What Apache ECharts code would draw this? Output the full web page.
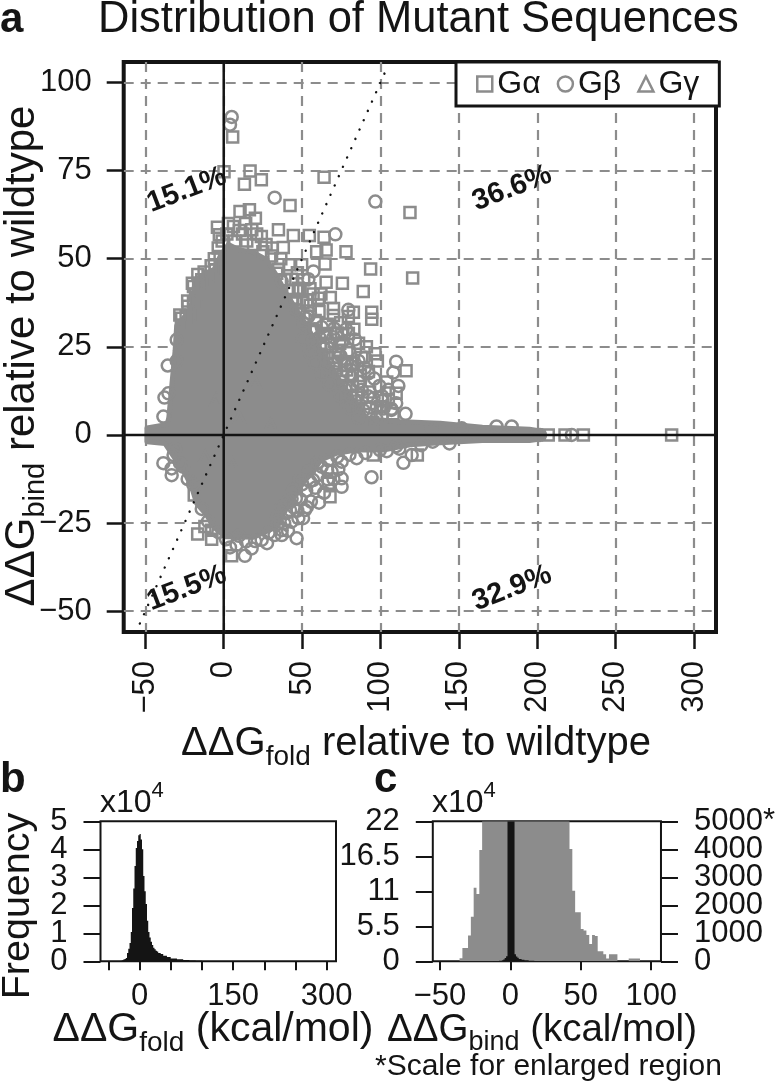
<!DOCTYPE html>
<html><head><meta charset="utf-8">
<style>html,body{margin:0;padding:0;background:#fff}#c{width:778px;height:1085px}</style>
<script src="https://cdn.jsdelivr.net/npm/echarts@6/dist/echarts.min.js"></script>
</head><body><div id="c"></div>
<script>
const FONT='"Liberation Sans",Arial,sans-serif', GRAY='#8c8c8c', INK='#141414';
const gaSquares=[[5.7,84.5],[0.2,74.7],[16.8,74.9],[13.2,71.1],[24,72.4],[64,73.1],[42.3,65.1],[118.8,63.1],[120.5,44.5],[10.4,63.4],[16.4,63.9],[20.2,61.5],[-4,58.9],[-2.8,56.8],[3,60],[6.2,59.1],[10,58],[17.9,58.2],[14,60],[34.9,58.2],[44.4,56.6],[54.6,56.6],[64,56.1],[38,53.2],[59.3,52],[65.3,52.5],[78,52],[93.7,47.1],[64.6,48.5],[49.7,48.3],[41.7,48.3],[65.3,43.3],[75.7,43],[89,40.7],[60.4,38.8],[47.6,41.6],[70,35.9],[70,33.9],[82.7,34.8],[94.4,34.8],[94.4,32.8],[79.5,33.6],[75.3,28.4],[79.5,28.8],[74,26],[96.5,23],[92.3,18],[116.3,18.2],[110,11.8],[84.8,11.3],[71,22],[78.4,18.4],[27,54],[21,57],[14.7,55],[31,53],[48.7,41.2],[33.8,45.9],[52.9,38.3],[46.6,37.4],[73,24],[-6,50],[-3.5,53],[-19.3,42.1],[-19.3,37.8],[-18,40],[-26.8,33.1],[-21.4,34],[-24,33.5],[-5.5,46.8],[-2.3,50.6],[-10,45],[-14,44],[-18.8,-17],[-16.6,-28.1],[-12,-26],[-7.7,-29.6],[-7.7,-27],[5,-34.3],[67.8,-17.5],[66.7,-13.7],[95.4,-5.7],[123.5,-5.7],[207,0],[217.7,0],[229.4,0],[285.7,0],[105,10],[88,22],[56,30],[62,26],[66,22],[72,19],[78,14],
[44,38.4],[50.5,37.6],[55.2,36.8],[60.8,35],[48,34.6],[58.3,32.5],[66,31.4],[74.6,31.8],[52,29.6],[64.4,28.8],[72.3,28.9],[58.2,25.2],[68.5,25.8],[78.6,23.3],[62.4,22.2],[70.2,20.3],[82,20.4],[66.3,17.2],[76,16.6],[87.2,16.9],[72,13.2],[82.1,13.8],[93,12.2],[78.4,10.3],[88.2,10.7],[84.5,7.3],[92.7,5.8],[101,5.2],[24,56.3],[30.5,50.8],[36.4,50],[43.2,44.2],[55,41.5],[-12.5,46.2],[-16,43],[-22.8,36.5],[-27,31.2],
[7,55],[12,57],[19,54],[25,52],[35,47],[39,44],[-8,48],[-1,55],[2,57],[-28,34],[-23,38],[-20,43],[-16.5,45.5],[83,30],[86,26],[91,25],[82,17],[98,21],[104,15],[100,8],[108,6],[95,3.5],[44,41],[51,44],[47,46],[57,40],[62,40],[68,39]];
const gbCircles=[[5.1,90.2],[4,88],[32.5,67.3],[96.7,66.2],[71.2,56.9],[57.2,46.4],[54,44.2],[37,43.5],[79.5,35.5],[83.7,27.1],[61,27.7],[65.7,27.7],[70,27.7],[90.1,22],[110,20.8],[108.2,17.7],[81,19.6],[77.4,19.9],[92.3,17.5],[87,15.1],[99.3,13.9],[111.4,13.9],[105,12.8],[93.3,7.8],[97.6,7.8],[107,7.1],[102,7.5],[55,34.5],[54,33.6],[50.8,31.7],[58,30],[75,15],[66,18],[-30,27],[-35.7,19.7],[-30,21],[-37.8,10.6],[-35.3,11.8],[-38.5,5.2],[-38.5,-8],[-33.2,-11.4],[-33.2,-9.5],[-32,-5.7],[-27.9,-8],[4,-31.9],[13.5,-34.3],[17.8,-32.2],[8.2,-31.2],[24.2,-29.8],[46.5,-29.3],[37,-28.4],[37,-27],[47.6,-23.6],[51.8,-21.3],[42.3,-21.3],[33.8,-23.6],[40,-22.2],[55,-13.2],[62.4,-9],[68.8,-10.4],[75.2,-14.7],[75.2,-12.3],[94.3,-12],[114.6,-7.9],[119.9,-5.7],[84.8,-6.6],[75.2,-7.6],[99.6,-4.3],[57,-12.8],[50,-14],[46,-18],[107,7.4],[132.6,1.9],[151.8,1.9],[174,2.4],[183.7,2.4],[133.3,-1.9],[222,0],[201.7,0],
[46.2,35.6],[52.7,33],[62.5,30.6],[70.4,30.2],[50.2,27.2],[56.6,26.8],[75.4,26.3],[54.8,23.4],[64.2,24.5],[74.3,22.6],[58.3,20.5],[66.8,20],[76.7,20.9],[62.2,17.3],[71.3,17.8],[81.6,16.5],[67.4,14.4],[77.4,13],[88.1,12.8],[74.3,11],[83.9,9.5],[80.5,7.6],[89.2,7],[95.6,10.4],[101.2,9.7],[86,4.9],[97.3,4.6],[60,-7.8],[66.5,-7.2],[72.4,-6.2],[80.2,-5.6],[90.4,-5.1],[104,-4.6],[112,-3.9],[54.3,-10.2],[60.2,-11.4],[66.3,-12.6],[73.1,-9.8],[48.4,-12.6],[52.6,-15.8],[58.4,-15],[64,-16.4],[44.2,-15.6],[43.3,-18.1],[49.2,-18.4],[55.6,-18.9],[60.8,-19.2],[40.4,-19],[36.7,-20.4],[44.8,-20.6],[50.6,-23.6],[34.3,-25.2],[38.6,-25],[43.2,-24.6],[28.6,-27.8],[32.4,-28.4],[41,-27.2],[9.6,-28.6],[14.2,-30.2],[20,-30.1],[27.6,-30.7],[1.5,-29.6],[-3.4,-27.6],
[78,30],[80,24],[86,21],[96,16],[90,19],[101,11],[92,11],[81,11],[86,15],[110,9],[116,6],[-26,-9],[-23,-12.5],[-19.5,-14],[-31,-4],[-14,-21],[-10,-24.5],[70,-12.5],[66,-10],[53,-20.5],[47,-21.5],[110,-3.2],[126,-2.9],[144,-2.4]];
const ggTriangles=[[-5,10],[10,5],[5,-8],[20,15],[-12,-6],[30,3]];
const corePolygon=[[-49,2],[-36,3],[-35,5],[-33,14.7],[-31,24],[-30,31],[-26,33],[-21,36],[-18,44],[-6,47],[-2,51],[3,54],[10,52.5],[18,52],[27.4,49.7],[34,45],[40,40],[50,33],[58,27],[66,21],[76,14],[86,8],[91,4.7],[110,3.8],[138,3.3],[165,2.2],[195,1.6],[204,1],[204,-1],[195,-1.6],[165,-1.6],[138,-2.2],[118.8,-2.8],[101.8,-4.3],[84.8,-4.3],[72,-5.2],[62,-7.1],[56,-11],[47,-15],[41,-20],[34,-26],[18.9,-29],[8.2,-28.9],[0.8,-28.9],[-6.6,-26],[-10.9,-22.7],[-17.3,-19.4],[-20.5,-14.7],[-24.7,-10.9],[-32,-6.1],[-37.5,-2.4],[-49,-1.9]];
const percentLabels=[[-23.6,69.5,'15.1%'],[183.9,70,'36.6%'],[-23.6,-43.5,'15.5%'],[183.9,-43.5,'32.9%']];
const diagonal=[[-53.5,-53.5],[104,104]];
const mainX=[-63.8,314], mainY=[-55.9,105.8];
const mainXTicks=[-50,0,50,100,150,200,250,300], mainYTicks=[-50,-25,0,25,50,75,100];
const foldEdges=[-40,-34,-30,-28,-26,-24,-22,-20,-18,-16,-14,-12,-10,-8,-6,-4,-2,0,2,4,6,8,10,12,14,16,18,20,22,24,26,28,30,34,38,44,50,60,70,80,90,100,120,150,200,250];
const foldCounts=[0.005,0.01,0.02,0.04,0.06,0.08,0.12,0.3,0.45,0.65,1.05,1.9,2.6,3.4,4.05,4.3,4.5,4.55,4.35,4,3.05,2.5,2.05,1.45,1.05,0.85,0.7,0.58,0.48,0.43,0.38,0.35,0.3,0.26,0.2,0.15,0.1,0.07,0.05,0.03,0.02,0.012,0.008,0.003,0.001];
const bindGrayEdges=[-36,-34,-32,-30,-28,-26,-24,-22,-20,42,44,46,48,50,52,54,56,58,60,62,64,66,68,70,72,74,76,78,84,86,88,90,92];
const bindGrayCounts=[107,476,476,917,1595,2630,2400,3976,5000,4010,2520,1750,1750,1150,1100,940,620,940,900,360,360,250,100,250,250,250,0,0,100,100,100,100];
const bindBlackEdges=[-20,-12,-8,-6,-5,-4,-3,-2,3,4,5,6,8,10,13,17,25,40];
const bindBlackCounts=[0.01,0.03,0.08,0.15,0.3,0.5,0.8,22,1.1,0.75,0.55,0.35,0.25,0.15,0.08,0.04,0.01];
const foldTicks=[-50,0,50,100,150,200,250,300], foldLabels=[0,150,300], bindTicks=[-50,0,50,100];
// Ticks are split over two coincident axes: the library drops a label next to the first or last one when the line boxes touch.
const foldYEven=[0,2,4], foldYOdd=[1,3,5], bindLeftY=[0,5.5,11,16.5,22], bindRightEven=[0,2000,4000], bindRightOdd=[1000,3000,5000];

const minus=v=>String(v).replace('-','\u2212');
function histRects(edges,counts){return counts.map((c,i)=>[edges[i],edges[i+1],c]);}
function stepItem(color){return (p,api)=>{
  if(p.dataIndex!==0) return null;
  const n=p.dataInsideLength, pts=[];
  for(let i=0;i<n;i++){
    const x0=api.value(0,i),x1=api.value(1,i),y=api.value(2,i);
    if(i===0) pts.push(api.coord([x0,0]));
    pts.push(api.coord([x0,y]),api.coord([x1,y]));
    if(i===n-1) pts.push(api.coord([x1,0]));
  }
  return {type:'polygon',shape:{points:pts},style:{fill:color}};
};}
const chart=echarts.init(document.getElementById('c'),null,{renderer:'canvas'});
const txt=(x,y,text,size,extra={})=>({type:'text',x,y,rotation:extra.rotation||0,z:50,style:{text,fill:INK,font:(extra.weight||'normal')+' '+size+'px '+FONT,textAlign:extra.align||'left',textVerticalAlign:'middle',rich:extra.rich}});
const ttl=(m,s)=>({m:{fontSize:m,fontFamily:FONT,color:INK},s:{fontSize:s,fontFamily:FONT,color:INK,verticalAlign:'bottom',padding:[0,0,-7,0]}});
const sup=(m,s)=>({m:{fontSize:m,fontFamily:FONT,color:INK},s:{fontSize:s,fontFamily:FONT,color:INK,verticalAlign:'top',padding:[-7,0,0,0]}});
const rightFmt=v=>v===5000?'5000*':String(v);
function xA(gi,min,max,ticks,labels,extra={}){return Object.assign({type:'value',gridIndex:gi,min,max,axisLine:{show:false,onZero:false},
  axisTick:{show:true,length:9,lineStyle:{color:INK,width:2},customValues:ticks},
  axisLabel:{fontFamily:FONT,fontSize:31,color:INK,margin:20,hideOverlap:false,showMinLabel:true,showMaxLabel:true,customValues:labels,formatter:minus},splitLine:{show:false}},extra);}
function yA(gi,min,max,ticks,pos,extra={}){return Object.assign({type:'value',gridIndex:gi,min,max,position:pos,axisLine:{show:false,onZero:false},
  axisTick:{show:true,length:17,lineStyle:{color:INK,width:2},customValues:ticks},
  axisLabel:{fontFamily:FONT,fontSize:31,color:INK,margin:33,hideOverlap:false,showMinLabel:true,showMaxLabel:true,customValues:ticks,formatter:pos==='right'?rightFmt:minus},splitLine:{show:false}},extra);}
const split={show:true,lineStyle:{color:GRAY,width:2.2,type:[10,7]}};
chart.setOption({
  animation:false,backgroundColor:'#fff',
  grid:[
    {left:123.7,top:62,width:592.3,height:570,show:true,borderColor:INK,borderWidth:4,backgroundColor:'#fff'},
    {left:100.5,top:821.3,width:235.5,height:140,show:true,borderColor:INK,borderWidth:2},
    {left:432.8,top:821.3,width:235.2,height:140,show:true,borderColor:INK,borderWidth:2}
  ],
  xAxis:[
    xA(0,mainX[0],mainX[1],mainXTicks,mainXTicks,{axisTick:{show:true,length:17,lineStyle:{color:INK,width:2.5},customValues:mainXTicks},
      axisLabel:{fontFamily:FONT,fontSize:31,color:INK,margin:29,rotate:90,hideOverlap:false,customValues:mainXTicks,formatter:minus},splitLine:split}),
    xA(1,-62.5,314.9,foldTicks,foldLabels),
    xA(2,-55,106.9,bindTicks,bindTicks)
  ],
  yAxis:[
    yA(0,mainY[0],mainY[1],mainYTicks,'left',{axisTick:{show:true,length:17,lineStyle:{color:INK,width:2.5},customValues:mainYTicks},
      axisLabel:{fontFamily:FONT,fontSize:31,color:INK,margin:32,hideOverlap:false,customValues:mainYTicks,formatter:minus},splitLine:split}),
    yA(1,0,5,foldYEven,'left'),
    yA(2,0,22,bindLeftY,'left'),
    yA(2,0,5000,bindRightEven,'right'),
    yA(1,0,5,foldYOdd,'left'),
    yA(2,0,5000,bindRightOdd,'right')
  ],
  legend:{left:456,top:62,itemGap:16,itemWidth:15,itemHeight:15,padding:[6,20,6,20],backgroundColor:'#fff',borderColor:INK,borderWidth:3,z:20,
    textStyle:{fontFamily:FONT,fontSize:32,color:INK},
    itemStyle:{color:'transparent',borderColor:GRAY,borderWidth:2.5},
    data:[{name:'G\u03b1',icon:'rect'},{name:'G\u03b2',icon:'circle'},{name:'G\u03b3',icon:'triangle'}]},
  series:[
    {type:'custom',name:'core',xAxisIndex:0,yAxisIndex:0,z:2,clip:true,data:corePolygon,encode:{x:0,y:1},
      renderItem:(p,api)=>{ if(p.dataIndex!==0) return null;
        return {type:'polygon',shape:{points:corePolygon.map(q=>api.coord(q))},style:{fill:GRAY,stroke:GRAY,lineWidth:5,lineJoin:'round'}};}},
    {type:'scatter',name:'G\u03b1',xAxisIndex:0,yAxisIndex:0,z:3,symbol:'rect',symbolSize:11,data:gaSquares,clip:true,itemStyle:{color:'transparent',borderColor:GRAY,borderWidth:2.5,opacity:1}},
    {type:'scatter',name:'G\u03b2',xAxisIndex:0,yAxisIndex:0,z:3,symbol:'circle',symbolSize:12,data:gbCircles,clip:true,itemStyle:{color:'transparent',borderColor:GRAY,borderWidth:2.5,opacity:1}},
    {type:'scatter',name:'G\u03b3',xAxisIndex:0,yAxisIndex:0,z:3,symbol:'triangle',symbolSize:11,data:ggTriangles,clip:true,itemStyle:{color:'transparent',borderColor:GRAY,borderWidth:2.5,opacity:1}},
    {type:'line',name:'x0',xAxisIndex:0,yAxisIndex:0,z:5,symbol:'none',clip:true,data:[[0,mainY[0]],[0,mainY[1]]],lineStyle:{color:INK,width:2.5}},
    {type:'line',name:'y0',xAxisIndex:0,yAxisIndex:0,z:5,symbol:'none',clip:true,data:[[mainX[0],0],[mainX[1],0]],lineStyle:{color:INK,width:2.5}},
    {type:'line',name:'diag',xAxisIndex:0,yAxisIndex:0,z:6,symbol:'none',clip:true,data:diagonal,lineStyle:{color:INK,width:2.4,type:[0.1,10.1],cap:'round'}},
    {type:'scatter',name:'pct',xAxisIndex:0,yAxisIndex:0,z:7,symbolSize:0,data:percentLabels,itemStyle:{opacity:1},
      label:{show:true,position:'inside',rotate:21,fontFamily:FONT,fontWeight:'bold',fontSize:29,color:INK,opacity:1,formatter:p=>p.data[2]}},
    {type:'custom',name:'fold',xAxisIndex:1,yAxisIndex:1,z:3,clip:true,data:histRects(foldEdges,foldCounts),encode:{x:[0,1],y:2},renderItem:stepItem(INK)},
    {type:'custom',name:'bindGray',xAxisIndex:2,yAxisIndex:3,z:3,clip:true,data:histRects(bindGrayEdges,bindGrayCounts),encode:{x:[0,1],y:2},renderItem:stepItem(GRAY)},
    {type:'custom',name:'bindBlack',xAxisIndex:2,yAxisIndex:2,z:4,clip:true,data:histRects(bindBlackEdges,bindBlackCounts),encode:{x:[0,1],y:2},renderItem:stepItem(INK)}
  ],
  graphic:[
    txt(0,20,'a',42,{weight:'bold'}),
    txt(98,20,'Distribution of Mutant Sequences',43.5),
    txt(416,744,'{m|\u0394\u0394G}{s|fold}{m| relative to wildtype}',40,{align:'center',rich:ttl(40,28)}),
    txt(22,356,'{m|\u0394\u0394G}{s|bind}{m| relative to wildtype}',42,{align:'center',rotation:Math.PI/2,rich:ttl(42,29)}),
    txt(0,780,'b',42,{weight:'bold'}),
    txt(374,780,'c',42,{weight:'bold'}),
    txt(100,803,'{m|x10}{s|4}',32,{rich:sup(32,22)}),
    txt(432,803,'{m|x10}{s|4}',32,{rich:sup(32,22)}),
    txt(18,906,'Frequency',39.5,{align:'center',rotation:Math.PI/2}),
    txt(213,1030,'{m|\u0394\u0394G}{s|fold}{m| (kcal/mol)}',41,{align:'center',rich:ttl(41,28)}),
    txt(542,1030,'{m|\u0394\u0394G}{s|bind}{m| (kcal/mol)}',38.5,{align:'center',rich:ttl(38.5,27)}),
    txt(375,1067,'*Scale for enlarged region',30)
  ]
});
</script></body></html>
